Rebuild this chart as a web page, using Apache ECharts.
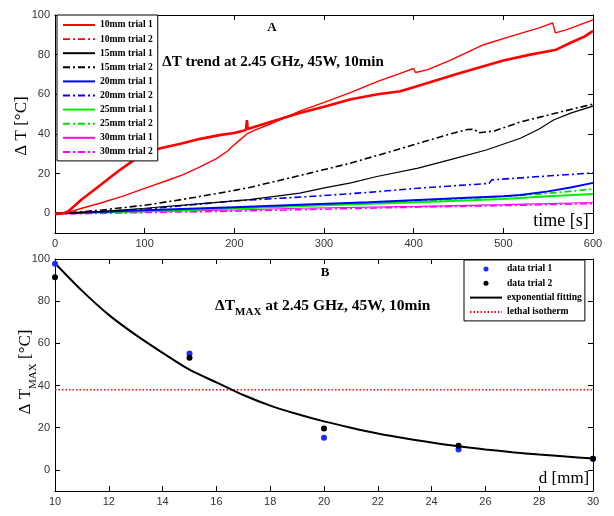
<!DOCTYPE html>
<html><head><meta charset="utf-8">
<script src="https://cdn.jsdelivr.net/npm/echarts@6/dist/echarts.min.js"></script>
<style>html,body{margin:0;padding:0;background:#fff}#c{width:614px;height:516px}</style>
</head><body><div id="c"></div>
<script>
// ---- Panel A: ΔT vs time [s]  (pairs [time, ΔT]) ----
const mm10Trial1 = [[0,0],[12,0],[30,2.5],[50,5],[75,8.5],[100,12.5],[125,16.5],[143,19.5],[160,23],[180,27.5],[193,31.5],[196,33],[198,33.5],[205,36.5],[214,40],[221,41.5],[240,45],[273,51.5],[301,56],[330,61],[360,66.5],[385,70.5],[400,73],[402,71],[404,70.5],[415,72.3],[440,77],[478,85],[510,89.5],[540,93.5],[555,96],[558,91],[570,92.5],[600,97.5]];
const mm10Trial2 = [[0,-0.5],[10,0],[15,1],[30,7],[50,14],[70,21],[84,25.5],[93,28.5],[100,30.5],[120,33],[140,35],[162,37.5],[185,39.5],[200,40.5],[213,42],[214,47],[215,42.5],[240,46],[273,50.5],[301,53.8],[330,57.5],[360,60],[385,61.5],[400,63.5],[450,70.5],[500,77],[530,80],[559,82.5],[575,86],[590,89],[600,92]];
const mm15Trial1 = [[0,0],[12,0],[50,0.8],[100,2.5],[150,4.3],[217,6.8],[273,10.1],[299,12.6],[330,15.3],[359,18.5],[405,22.7],[441,27],[481,31.9],[519,37.8],[540,42.5],[556,47],[575,50.5],[600,54]];
const mm15Trial2 = [[0,0],[12,0],[50,1.5],[100,4],[150,7.5],[200,11.5],[217,13],[250,16.5],[284,20.2],[329,25.2],[370,30.5],[411,36],[441,40],[460,42.2],[468,42.3],[472,40.5],[490,41.5],[519,46],[563,51],[600,55]];
const mm20Trial1 = [[0,0],[12,0],[100,1.5],[200,3],[273,4.2],[350,5.5],[405,6.7],[460,7.8],[500,8.5],[519,9.2],[550,11],[575,13],[600,15.3]];
const mm20Trial2 = [[0,0],[12,0],[100,2],[200,6.2],[284,8.4],[350,10.5],[405,12.6],[450,14],[484,15],[487,16.8],[540,18.5],[600,20.3]];
const mm25Trial1 = [[0,0],[100,1],[200,2.3],[300,4],[405,5.5],[500,7.2],[550,8.5],[600,9.7]];
const mm25Trial2 = [[0,0],[100,1.2],[200,2.5],[300,4.3],[405,6],[500,8.5],[550,10],[600,12.2]];
const mm30Trial1 = [[0,0],[100,0.8],[200,1.6],[273,2.5],[405,3.4],[500,4.3],[600,5.4]];
const mm30Trial2 = [[0,-0.5],[100,0.3],[200,1],[300,2],[400,3],[500,3.8],[600,4.8]];

// ---- Panel B: ΔT_MAX vs distance d [mm] ----
const distances = [10,15,20,25,30];
const dataTrial1 = [97.7,55.2,15.2,9.7,5.3];
const dataTrial2 = [91.4,53.2,19.6,11.4,5.3];
const fitD = [10,11,12,13,14,15,16,17,18,19,20,21,22,23,24,25,26,27,28,29,30];
const fitT = [98,85,73.5,64,55.5,47.5,41.5,35.5,30.5,26.5,23,20,17.3,15,13,11.2,9.7,8.4,7.3,6.3,5.4];
const lethalIsotherm = 38;

// ---- tick labels ----
const yTickValues = [0,20,40,60,80,100];
const timeTicks = [0,100,200,300,400,500,600];
const dTicks = [10,12,14,16,18,20,22,24,26,28,30];

const SERIF = 'Liberation Serif';
const SANS = 'Liberation Sans';

const chart = echarts.init(document.getElementById('c'), null, {renderer:'canvas'});

const axLine = {show:true, onZero:false, lineStyle:{color:'#000', width:1}};
const tick = (vals) => ({show:true, inside:true, length:5, lineStyle:{color:'#000'}, customValues: vals});
const lab = (vals, show) => ({show:show, customValues: vals, fontFamily:SANS, fontSize:11, color:'#333', margin:5});

const xAxes = [
  {type:'value', gridIndex:0, position:'bottom', min:0, max:600, axisLine:axLine, axisTick:tick(timeTicks), axisLabel:lab(timeTicks,true), splitLine:{show:false}},
  {type:'value', gridIndex:0, position:'top', min:0, max:600, axisLine:axLine, axisTick:tick(timeTicks), axisLabel:lab(timeTicks,false), splitLine:{show:false}},
  {type:'value', gridIndex:1, position:'bottom', min:10, max:30, axisLine:axLine, axisTick:tick(dTicks), axisLabel:lab(dTicks,true), splitLine:{show:false}},
  {type:'value', gridIndex:1, position:'top', min:10, max:30, axisLine:axLine, axisTick:tick(dTicks), axisLabel:lab(dTicks,false), splitLine:{show:false}}
];
const yAxes = [
  {type:'value', gridIndex:0, position:'left', min:-10, max:100, axisLine:axLine, axisTick:tick(yTickValues), axisLabel:lab(yTickValues,true), splitLine:{show:false}},
  {type:'value', gridIndex:0, position:'right', min:-10, max:100, axisLine:axLine, axisTick:tick(yTickValues), axisLabel:lab(yTickValues,false), splitLine:{show:false}},
  {type:'value', gridIndex:1, position:'left', min:-10, max:100, axisLine:axLine, axisTick:tick(yTickValues), axisLabel:lab(yTickValues,true), splitLine:{show:false}},
  {type:'value', gridIndex:1, position:'right', min:-10, max:100, axisLine:axLine, axisTick:tick(yTickValues), axisLabel:lab(yTickValues,false), splitLine:{show:false}}
];

const DASHDOT = [7,3,2,3];
function lineSeries(name, data, color, width, type, z) {
  return {name, type:'line', xAxisIndex:0, yAxisIndex:0, data, showSymbol:false, symbol:'none',
    lineStyle:{color, width, type}, itemStyle:{color}, z: z||2, animation:false};
}

const series = [
  lineSeries('30mm trial 2', mm30Trial2, '#ff00ff', 1.5, DASHDOT),
  lineSeries('30mm trial 1', mm30Trial1, '#ff00ff', 1.2, 'solid'),
  lineSeries('25mm trial 2', mm25Trial2, '#00e000', 1.8, DASHDOT),
  lineSeries('25mm trial 1', mm25Trial1, '#00ee00', 2, 'solid'),
  lineSeries('20mm trial 2', mm20Trial2, '#0000ff', 1.6, DASHDOT),
  lineSeries('20mm trial 1', mm20Trial1, '#0000ff', 2, 'solid'),
  lineSeries('15mm trial 2', mm15Trial2, '#000000', 1.6, DASHDOT),
  lineSeries('15mm trial 1', mm15Trial1, '#000000', 1.2, 'solid'),
  lineSeries('10mm trial 2', mm10Trial2, '#ff0000', 2.6, 'solid'),
  lineSeries('10mm trial 1', mm10Trial1, '#ff0000', 1.4, 'solid'),
  {name:'lethal isotherm', type:'line', xAxisIndex:2, yAxisIndex:2, symbol:'none', showSymbol:false,
    data:[[fitD[0], lethalIsotherm],[fitD[fitD.length-1], lethalIsotherm]],
    lineStyle:{color:'#ff0000', width:1.3, type:[1.5,2]}, itemStyle:{color:'#ff0000'}, animation:false},
  {name:'exponential fitting', type:'line', xAxisIndex:2, yAxisIndex:2, symbol:'none', showSymbol:false, smooth:0.3,
    data: fitD.map((d,i)=>[d, fitT[i]]),
    lineStyle:{color:'#000', width:2}, itemStyle:{color:'#000'}, animation:false},
  {name:'data trial 1', type:'scatter', xAxisIndex:2, yAxisIndex:2, symbol:'circle', symbolSize:6,
    data: distances.map((d,i)=>[d, dataTrial1[i]]), itemStyle:{color:'#1a2cff', opacity:1}, z:3, animation:false},
  {name:'data trial 2', type:'scatter', xAxisIndex:2, yAxisIndex:2, symbol:'circle', symbolSize:6,
    data: distances.map((d,i)=>[d, dataTrial2[i]]), itemStyle:{color:'#000', opacity:1}, z:4, animation:false}
];

const hideSym = {opacity:0};
const lineItem = (name, extra) => Object.assign({name, itemStyle:hideSym}, extra||{});
const legendText = {fontFamily:SERIF, fontWeight:'bold', fontSize:9.6, color:'#000', lineHeight:10};
const option = {
  backgroundColor:'#fff',
  animation:false,
  grid:[
    {left:55, top:15, width:538, height:218, containLabel:false},
    {left:55, top:259, width:538, height:232, containLabel:false}
  ],
  xAxis:xAxes, yAxis:yAxes, series,
  legend:[
    {orient:'vertical', left:57, top:15, itemWidth:32, itemHeight:10, itemGap:4.1, itemTextGap:2,
     padding:[5,5,4,5], backgroundColor:'#fff', borderColor:'#000', borderWidth:1, borderRadius:0,
     textStyle:legendText, selectedMode:false,
     data:[lineItem('10mm trial 1'), lineItem('10mm trial 2', {lineStyle:{type:DASHDOT, width:1.6}}), lineItem('15mm trial 1'), lineItem('15mm trial 2'),
           lineItem('20mm trial 1'), lineItem('20mm trial 2'), lineItem('25mm trial 1'), lineItem('25mm trial 2'),
           lineItem('30mm trial 1'), lineItem('30mm trial 2')]},
    {orient:'vertical', left:464, top:260, itemWidth:32, itemHeight:5, itemGap:4.3, itemTextGap:2,
     padding:[4,3,4,5], backgroundColor:'#fff', borderColor:'#000', borderWidth:1, borderRadius:0,
     textStyle:legendText, selectedMode:false,
     data:['data trial 1','data trial 2', lineItem('exponential fitting'), lineItem('lethal isotherm')]}
  ],
  graphic:[
    {type:'text', z:100, x:272, y:28, style:{text:'A', font:'bold 13px "Liberation Serif"', fill:'#000', textAlign:'center', textVerticalAlign:'middle'}},
    {type:'text', z:100, x:273, y:62, style:{text:'ΔT trend at 2.45 GHz, 45W, 10min', font:'bold 15px "Liberation Serif"', fill:'#000', textAlign:'center', textVerticalAlign:'middle'}},
    {type:'text', z:100, x:325, y:273, style:{text:'B', font:'bold 13px "Liberation Serif"', fill:'#000', textAlign:'center', textVerticalAlign:'middle'}},
    {type:'text', z:100, x:215, y:306, style:{text:'{m|ΔT}{s|MAX}{m| at 2.45 GHz, 45W, 10min}', textAlign:'left', textVerticalAlign:'middle',
      rich:{m:{fontFamily:SERIF, fontWeight:'bold', fontSize:15.5, lineHeight:24, fill:'#000', verticalAlign:'middle'},
            s:{fontFamily:SERIF, fontWeight:'bold', fontSize:11, lineHeight:10, fill:'#000', verticalAlign:'bottom'}}}},
    {type:'text', z:100, x:22, y:126, rotation:Math.PI/2, style:{text:'Δ T [°C]', font:'17px "Liberation Serif"', fill:'#000', textAlign:'center', textVerticalAlign:'middle'}},
    {type:'text', z:100, x:26, y:372, rotation:Math.PI/2, style:{text:'{m|Δ T}{s|MAX}{m| [°C]}', textAlign:'center', textVerticalAlign:'middle',
      rich:{m:{fontFamily:SERIF, fontSize:17, lineHeight:26, fill:'#000', verticalAlign:'middle'},
            s:{fontFamily:SERIF, fontSize:11, lineHeight:11, fill:'#000', verticalAlign:'bottom'}}}},
    {type:'text', z:100, x:561, y:221, style:{text:'time [s]', font:'18px "Liberation Serif"', fill:'#000', textAlign:'center', textVerticalAlign:'middle'}},
    {type:'text', z:100, x:564, y:479, style:{text:'d [mm]', font:'17px "Liberation Serif"', fill:'#000', textAlign:'center', textVerticalAlign:'middle'}}
  ]
};
chart.setOption(option);
</script></body></html>
